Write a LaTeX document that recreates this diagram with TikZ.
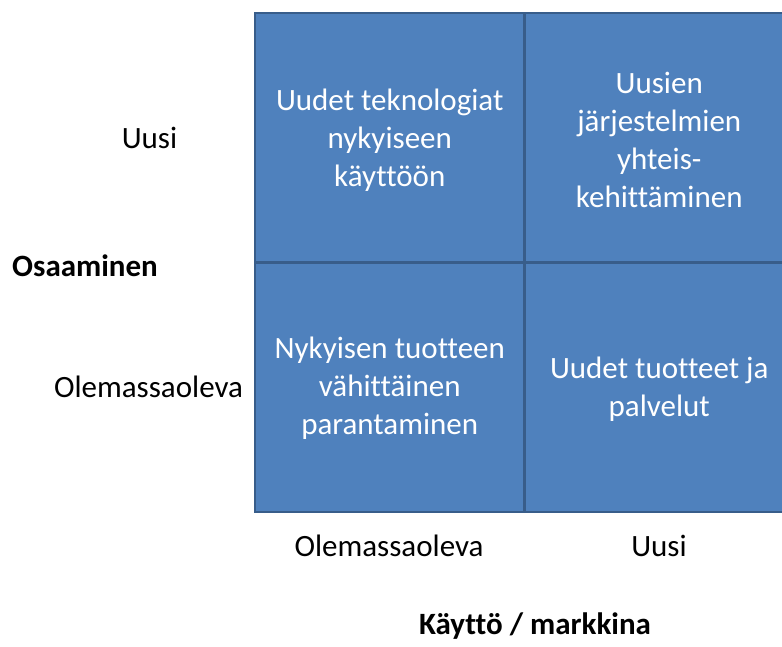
\documentclass[tikz,border=0pt]{standalone}
\usepackage{fontspec}
\setmainfont{Carlito}[Ligatures=NoCommon]
\definecolor{cellfill}{HTML}{4F81BD}
\definecolor{cellline}{HTML}{385D8A}
\begin{document}
\begin{tikzpicture}[x=1pt,y=-1pt,
  cell/.style={draw=cellline, fill=cellfill, line width=2.5pt, rectangle, inner sep=0pt,
    minimum width=269.5pt, minimum height=249.5pt},
  celltext/.style={text=white, align=center, inner sep=0pt,
    font=\fontsize{31}{38}\selectfont},
  lab/.style={text=black, inner sep=0pt, font=\fontsize{31}{38}\selectfont},
  blab/.style={lab, font=\fontsize{31}{38}\selectfont\bfseries}]
\useasboundingbox (0,0) rectangle (782,646);
\begin{scope}
\clip (0,0) rectangle (782,646);
\node[cell] (c11) at (389.75,137.5) {};
\node[cell] (c12) at (659.25,137.5) {};
\node[cell] (c21) at (389.75,387) {};
\node[cell] (c22) at (659.25,387) {};
\end{scope}
\node[celltext] (t11) at ([yshift=-2.5pt]c11.center) {Uudet teknologiat\\nykyiseen\\käyttöön};
\node[celltext] (t12) at ([yshift=-2pt]c12.center) {Uusien\\järjestelmien\\yhteis-\\kehittäminen};
\node[celltext] (t21) at ([yshift=-1.5pt]c21.center) {Nykyisen tuotteen\\vähittäinen\\parantaminen};
\node[celltext] (t22) at ([yshift=-2pt]c22.center) {Uudet tuotteet ja\\palvelut};
\node[lab, anchor=base] (ly1) at (149.5,148) {Uusi};
\node[blab, anchor=base] (ly) at (85,276) {Osaaminen};
\node[lab, anchor=base] (ly2) at (148.5,397) {Olemassaoleva};
\node[lab, anchor=base] (lx1) at (389,556) {Olemassaoleva};
\node[lab, anchor=base] (lx2) at (659,556) {Uusi};
\node[blab, anchor=base] (lx) at (535,634) {Käyttö / markkina};
\end{tikzpicture}
\end{document}
